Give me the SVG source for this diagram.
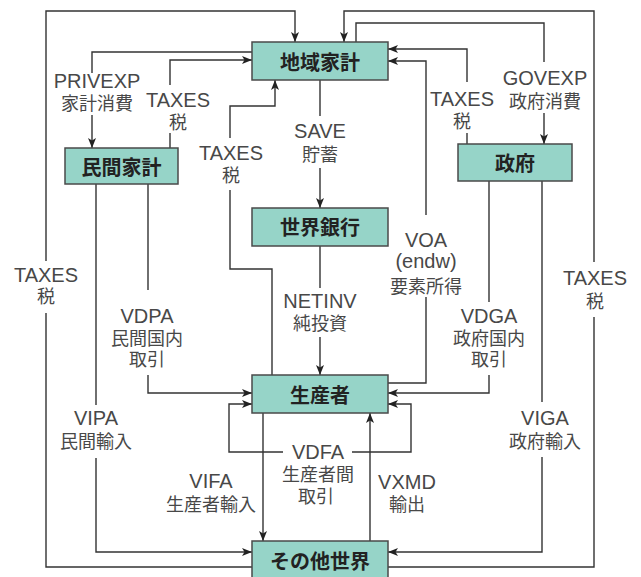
<svg xmlns="http://www.w3.org/2000/svg" width="641" height="577" viewBox="0 0 641 577">
<style>
.node rect{fill:#96d4c8;stroke:#4a4a4a;stroke-width:1.5}
.node text{font-family:"Noto Sans CJK JP",sans-serif;font-size:20px;font-weight:bold;fill:#222;text-anchor:middle}
.conn path{fill:none;stroke:#333;stroke-width:1.4}
.lbl{font-family:"Liberation Sans","Noto Sans CJK JP",sans-serif;fill:#484848;text-anchor:middle;font-size:20px}
.lj{font-size:18px;font-family:"Noto Sans CJK JP",sans-serif}
</style>
<defs>
<marker id="ar" viewBox="0 0 10 8" refX="10" refY="4" markerWidth="10" markerHeight="8" markerUnits="userSpaceOnUse" orient="auto">
<path d="M0,0 L10,4 L0,8 L2.5,4 z" fill="#222"/>
</marker>
</defs>
<rect width="641" height="577" fill="#fff"/>
<g class="conn">
<path d="M252,567 H46 V313"/>
<path d="M46,261 V11 H295 V42" marker-end="url(#ar)"/>
<path d="M388,567 H594 V317"/>
<path d="M594,262 V11 H344 V42" marker-end="url(#ar)"/>
<path d="M252,52 H92 V73"/>
<path d="M92,115 V148" marker-end="url(#ar)"/>
<path d="M170,148 V133"/>
<path d="M170,85 V60 H252" marker-end="url(#ar)"/>
<path d="M272,375 V269 H230 V190"/>
<path d="M230,138 V106 H275 V80" marker-end="url(#ar)"/>
<path d="M320,80 V116"/>
<path d="M320,168 V208" marker-end="url(#ar)"/>
<path d="M320,246 V288"/>
<path d="M320,337 V375" marker-end="url(#ar)"/>
<path d="M388,383 H426 V297"/>
<path d="M426,215 V61 H388" marker-end="url(#ar)"/>
<path d="M467,144 V133"/>
<path d="M467,82 V49 H388" marker-end="url(#ar)"/>
<path d="M356,42 V23 H544 V62"/>
<path d="M544,113 V144" marker-end="url(#ar)"/>
<path d="M148,184 V290"/>
<path d="M148,375 V393 H252" marker-end="url(#ar)"/>
<path d="M96,184 V405"/>
<path d="M96,458 V552 H252" marker-end="url(#ar)"/>
<path d="M489,181 V302"/>
<path d="M489,375 V393 H388" marker-end="url(#ar)"/>
<path d="M542,181 V402"/>
<path d="M542,457 V552 H388" marker-end="url(#ar)"/>
<path d="M283,452 H229 V404 H252" marker-end="url(#ar)"/>
<path d="M352,452 H411 V404 H388" marker-end="url(#ar)"/>
<path d="M263,413 V541" marker-end="url(#ar)"/>
<path d="M370,541 V413" marker-end="url(#ar)"/>
</g>
<g id="chiiki" class="node"><rect x="252" y="42" width="136" height="38"/><text x="320" y="70">地域家計</text></g>
<g id="minkan" class="node"><rect x="65" y="148" width="113" height="36"/><text x="121.5" y="174.5">民間家計</text></g>
<g id="seifu" class="node"><rect x="458" y="144" width="114" height="37"/><text x="515" y="171">政府</text></g>
<g id="sekaiginko" class="node"><rect x="252" y="208" width="136" height="38"/><text x="320" y="235">世界銀行</text></g>
<g id="seisansha" class="node"><rect x="252" y="375" width="136" height="38"/><text x="320" y="403">生産者</text></g>
<g id="sonota" class="node"><rect x="252" y="541" width="136" height="40"/><text x="320" y="569">その他世界</text></g>
<g id="labels">
<text class="lbl"><tspan x="97" y="88">PRIVEXP</tspan><tspan class="lj" x="97" y="110">家計消費</tspan></text>
<text class="lbl"><tspan x="178" y="107">TAXES</tspan><tspan class="lj" x="178" y="129">税</tspan></text>
<text class="lbl"><tspan x="231" y="160">TAXES</tspan><tspan class="lj" x="231" y="182">税</tspan></text>
<text class="lbl"><tspan x="320" y="138">SAVE</tspan><tspan class="lj" x="320" y="161">貯蓄</tspan></text>
<text class="lbl"><tspan x="545" y="85">GOVEXP</tspan><tspan class="lj" x="545" y="108">政府消費</tspan></text>
<text class="lbl"><tspan x="462" y="106">TAXES</tspan><tspan class="lj" x="462" y="128">税</tspan></text>
<text class="lbl"><tspan x="46" y="282">TAXES</tspan><tspan class="lj" x="46" y="303">税</tspan></text>
<text class="lbl"><tspan x="595" y="285">TAXES</tspan><tspan class="lj" x="595" y="308">税</tspan></text>
<text class="lbl"><tspan x="426" y="247">VOA</tspan><tspan x="426" y="268">(endw)</tspan><tspan class="lj" x="426" y="293">要素所得</tspan></text>
<text class="lbl"><tspan x="320" y="308">NETINV</tspan><tspan class="lj" x="320" y="330">純投資</tspan></text>
<text class="lbl"><tspan x="147" y="323">VDPA</tspan><tspan class="lj" x="147" y="345">民間国内</tspan><tspan class="lj" x="147" y="366">取引</tspan></text>
<text class="lbl"><tspan x="489" y="323">VDGA</tspan><tspan class="lj" x="489" y="345">政府国内</tspan><tspan class="lj" x="489" y="366">取引</tspan></text>
<text class="lbl"><tspan x="96" y="425">VIPA</tspan><tspan class="lj" x="96" y="448">民間輸入</tspan></text>
<text class="lbl"><tspan x="545" y="425">VIGA</tspan><tspan class="lj" x="545" y="448">政府輸入</tspan></text>
<text class="lbl"><tspan x="318" y="459">VDFA</tspan><tspan class="lj" x="318" y="481">生産者間</tspan><tspan class="lj" x="316" y="503">取引</tspan></text>
<text class="lbl"><tspan x="211" y="488">VIFA</tspan><tspan class="lj" x="211" y="511">生産者輸入</tspan></text>
<text class="lbl"><tspan x="407" y="489">VXMD</tspan><tspan class="lj" x="407" y="511">輸出</tspan></text>
</g>
</svg>
